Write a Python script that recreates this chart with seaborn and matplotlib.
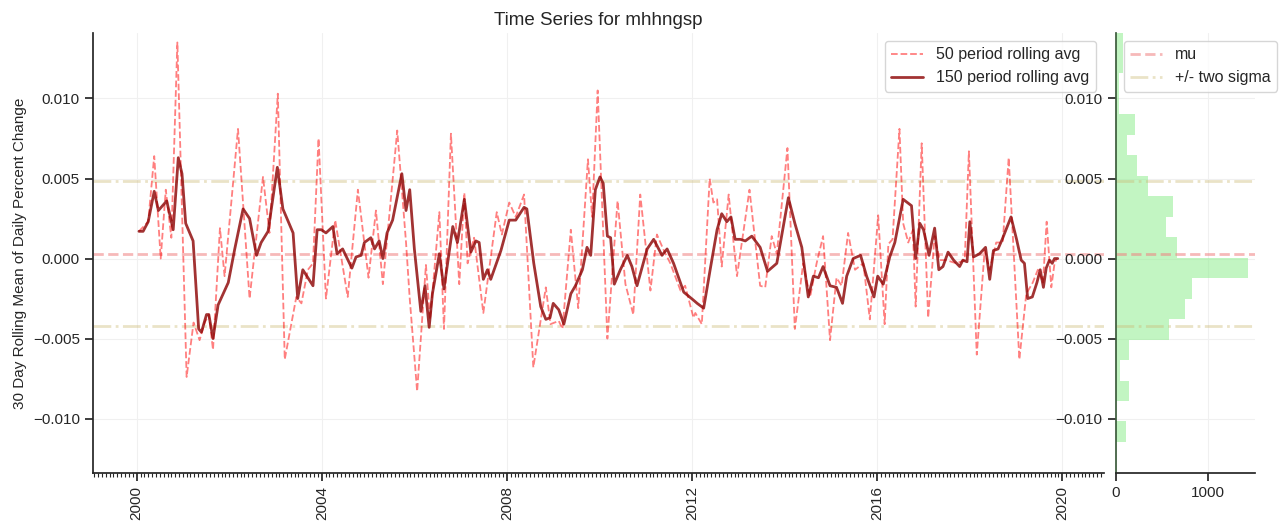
import numpy as np
import pandas as pd
import seaborn as sns
import matplotlib
matplotlib.use('Agg')
import matplotlib.pyplot as plt
import matplotlib.dates as mdates
from matplotlib.lines import Line2D

sns.set_theme(style='ticks')
plt.rcParams['font.family'] = ['Liberation Sans', 'DejaVu Sans']

# %% data (values in units of 1e-3)

slow_years = [2000.05, 2000.14, 2000.25, 2000.38, 2000.47, 2000.65, 2000.79, 2000.90, 2000.98, 2001.06,
              2001.22, 2001.34, 2001.40, 2001.51, 2001.56, 2001.65, 2001.76, 2001.87, 2001.98, 2002.12,
              2002.30, 2002.44, 2002.59, 2002.69, 2002.84, 2003.04, 2003.16, 2003.38, 2003.48, 2003.59,
              2003.81, 2003.90, 2003.99, 2004.09, 2004.24, 2004.33, 2004.45, 2004.65, 2004.74, 2004.85,
              2004.92, 2005.06, 2005.14, 2005.24, 2005.32, 2005.41, 2005.53, 2005.73, 2005.82, 2005.90,
              2006.00, 2006.14, 2006.23, 2006.32, 2006.39, 2006.54, 2006.64, 2006.83, 2006.93, 2007.08,
              2007.22, 2007.33, 2007.40, 2007.49, 2007.58, 2007.65, 2007.87, 2008.05, 2008.19, 2008.37,
              2008.43, 2008.58, 2008.73, 2008.84, 2008.93, 2009.00, 2009.12, 2009.23, 2009.38, 2009.48,
              2009.63, 2009.73, 2009.81, 2009.91, 2010.01, 2010.08, 2010.17, 2010.24, 2010.32, 2010.45,
              2010.60, 2010.70, 2010.81, 2011.03, 2011.17, 2011.35, 2011.46, 2011.60, 2011.82, 2012.03,
              2012.11, 2012.25, 2012.39, 2012.54, 2012.64, 2012.75, 2012.84, 2012.93, 2013.04, 2013.15,
              2013.29, 2013.47, 2013.63, 2013.83, 2014.08, 2014.22, 2014.37, 2014.51, 2014.62, 2014.73,
              2014.83, 2014.98, 2015.12, 2015.25, 2015.34, 2015.48, 2015.64, 2015.77, 2015.93, 2016.01,
              2016.13, 2016.27, 2016.38, 2016.56, 2016.74, 2016.83, 2016.92, 2017.00, 2017.12, 2017.24,
              2017.33, 2017.42, 2017.53, 2017.65, 2017.78, 2017.85, 2017.94, 2018.00, 2018.08, 2018.21,
              2018.34, 2018.43, 2018.51, 2018.61, 2018.70, 2018.89, 2019.01, 2019.11, 2019.18, 2019.25,
              2019.35, 2019.45, 2019.52, 2019.59, 2019.65, 2019.72, 2019.78, 2019.83, 2019.90]
slow_vals = [1.7, 1.7, 2.3, 4.2, 3.0, 3.6, 1.8, 6.3, 5.3, 2.2,
             1.1, -4.4, -4.6, -3.5, -3.5, -5.0, -2.9, -2.2, -1.5, 0.6,
             3.1, 2.5, 0.2, 1.0, 1.7, 5.7, 3.1, 1.6, -2.5, -0.7,
             -1.7, 1.8, 1.8, 1.6, 2.0, 0.3, 0.6, -0.6, 0.1, 0.2,
             1.0, 1.3, 0.6, 1.1, 0.0, 1.6, 2.4, 5.3, 3.0, 4.3,
             0.6, -3.3, -1.7, -4.3, -2.2, 0.3, -1.9, 2.0, 1.0, 3.7,
             0.4, 1.1, 1.0, -1.3, -0.7, -1.3, 0.5, 2.4, 2.4, 3.2,
             3.1, -0.3, -3.0, -3.8, -3.7, -2.8, -3.2, -4.1, -2.2, -1.7,
             -0.7, 0.7, 0.2, 4.3, 5.1, 4.7, 1.4, 1.3, -1.6, -0.7,
             0.2, -0.5, -1.7, 0.6, 1.2, 0.2, 0.6, -0.3, -2.1, -2.6,
             -2.8, -3.1, -0.7, 1.8, 2.8, 2.3, 2.6, 1.2, 1.2, 1.1,
             1.4, 0.7, -0.8, -0.3, 3.8, 2.2, 0.7, -2.4, -1.1, -1.2,
             -0.5, -1.7, -1.8, -2.8, -1.1, 0.0, 0.2, -1.1, -2.4, -1.1,
             -1.6, 0.1, 1.0, 3.7, 3.3, 0.0, 2.2, 1.8, 0.2, 1.9,
             -0.7, -0.5, 0.4, -0.1, -0.5, -0.1, -0.2, 2.3, 0.1, 0.3,
             0.7, -1.3, 0.5, 0.6, 1.2, 2.6, 1.2, -0.1, -0.3, -2.5,
             -2.4, -1.5, -0.7, -1.8, -0.6, -0.1, -0.3, 0.0, 0.0]

fast_years = [2000.05, 2000.25, 2000.38, 2000.52, 2000.63, 2000.75, 2000.88, 2001.08, 2001.23, 2001.36,
              2001.47, 2001.56, 2001.65, 2001.80, 2001.90, 2002.19, 2002.44, 2002.73, 2002.87, 2003.05,
              2003.20, 2003.45, 2003.56, 2003.70, 2003.81, 2003.93, 2004.09, 2004.29, 2004.56, 2004.78,
              2005.01, 2005.17, 2005.32, 2005.63, 2005.82, 2005.90, 2006.06, 2006.25, 2006.34, 2006.54,
              2006.64, 2006.79, 2006.97, 2007.08, 2007.15, 2007.29, 2007.49, 2007.78, 2007.89, 2008.05,
              2008.19, 2008.37, 2008.57, 2008.84, 2008.94, 2009.12, 2009.20, 2009.38, 2009.54, 2009.75,
              2009.84, 2009.96, 2010.17, 2010.39, 2010.56, 2010.73, 2010.88, 2011.10, 2011.24, 2011.39,
              2011.53, 2011.75, 2011.85, 2012.03, 2012.07, 2012.21, 2012.38, 2012.46, 2012.54, 2012.64,
              2012.79, 2012.97, 2013.24, 2013.47, 2013.58, 2013.72, 2013.83, 2014.06, 2014.22, 2014.40,
              2014.55, 2014.69, 2014.83, 2014.98, 2015.12, 2015.23, 2015.37, 2015.52, 2015.70, 2015.84,
              2016.02, 2016.16, 2016.24, 2016.33, 2016.48, 2016.56, 2016.67, 2016.77, 2016.83, 2016.96,
              2017.10, 2017.24, 2017.35, 2017.49, 2017.71, 2017.89, 2017.98, 2018.15, 2018.32, 2018.43,
              2018.57, 2018.71, 2018.84, 2019.07, 2019.22, 2019.36, 2019.47, 2019.58, 2019.66, 2019.76,
              2019.83, 2019.88]
fast_vals = [1.7, 2.3, 6.4, 0.0, 4.3, 1.3, 13.5, -7.4, -4.0, -5.1,
             -4.0, -3.5, -5.7, 1.9, -1.1, 8.1, -2.5, 5.1, 1.6, 10.3,
             -6.3, -2.4, -2.8, -0.7, -0.3, 7.5, -2.5, 2.4, -2.4, 4.3,
             -1.2, 3.0, -1.6, 8.0, 1.0, -2.5, -8.3, -0.4, -3.8, 2.9,
             -4.4, 7.8, -1.6, 4.1, -0.3, 1.3, -3.4, 2.9, 1.5, 3.5,
             2.6, 4.0, -6.8, -1.8, -4.1, -3.9, -4.4, 1.8, -3.1, 6.2,
             2.6, 10.5, -5.0, 3.6, -1.6, -3.5, 4.0, -2.0, 1.5, 0.5,
             -0.3, -2.0, -1.7, -3.7, -3.4, -4.1, 5.0, 3.5, 3.7, -0.5,
             4.0, -1.1, 4.3, -1.7, -1.8, 1.4, 0.3, 6.9, -4.4, -0.3,
             -2.4, -0.3, 1.4, -5.1, -1.2, -1.7, 1.6, -0.7, -0.3, -3.8,
             2.7, -4.1, 0.9, 1.2, 8.1, 2.2, 1.0, 1.8, -3.0, 7.2,
             -3.7, 1.4, -0.1, -0.1, -0.3, -0.1, 6.7, -6.0, 0.5, -0.7,
             1.0, 1.0, 6.3, -6.3, -2.2, -1.5, -0.7, -1.5, 2.3, -1.8,
             -0.3, 0.0]

mu = 0.0003
two_sigma = 0.00454

# histogram of daily percent change, 20 bins bottom -> top
hist_range = (-0.01146, 0.01414)
hist_counts = [110, 8, 146, 44, 146, 584, 756, 828, 1442, 672,
               547, 620, 354, 233, 124, 215, 40, 40, 75, 75]


def to_dates(years):
    years = np.asarray(years, dtype=float)
    return pd.Timestamp('2000-01-01') + pd.to_timedelta((years - 2000) * 365.25, unit='D')


fast = pd.DataFrame({'date': to_dates(fast_years), 'val': np.array(fast_vals) * 1e-3})
slow = pd.DataFrame({'date': to_dates(slow_years), 'val': np.array(slow_vals) * 1e-3})

n_bins = len(hist_counts)
bin_w = (hist_range[1] - hist_range[0]) / n_bins
hist_df = pd.DataFrame({'center': hist_range[0] + bin_w * (np.arange(n_bins) + 0.5),
                        'count': hist_counts})

# %% plot
fig = plt.figure(figsize=(12.81, 5.24), dpi=100)
ax = fig.add_axes([0.0726, 0.0973, 0.789, 0.840])
ax_h = fig.add_axes([0.871, 0.0973, 0.1085, 0.840], sharey=ax)

grid_kw = dict(color='#f0f0f0', linewidth=0.8)
ax.grid(True, **grid_kw)
ax_h.grid(True, **grid_kw)

mu_kw = dict(color='lightcoral', alpha=0.55, linestyle='--', linewidth=2)
sig_kw = dict(color='y', alpha=0.4, linestyle='-.', linewidth=2)
for a in (ax, ax_h):
    a.axhline(mu, **mu_kw)
    a.axhline(mu + two_sigma, **sig_kw)
    a.axhline(mu - two_sigma, **sig_kw)

sns.lineplot(data=fast, x='date', y='val', ax=ax, color='red', alpha=0.5,
             linestyle='--', linewidth=1.3, label='50 period rolling avg')
sns.lineplot(data=slow, x='date', y='val', ax=ax, color='darkred', alpha=0.8,
             linewidth=2, label='150 period rolling avg')

sns.histplot(data=hist_df, y='center', weights='count', bins=n_bins, binrange=hist_range,
             ax=ax_h, color='lightgreen', alpha=0.55, linewidth=0)

ax.set_ylim(-0.0134, 0.0141)
ax.set_title('Time Series for mhhngsp', fontsize=13.5)
ax.set_xlabel('')
ax.set_ylabel('30 Day Rolling Mean of Daily Percent Change', fontsize=11)
ax.xaxis.set_major_locator(mdates.YearLocator(4))
ax.xaxis.set_major_formatter(mdates.DateFormatter('%Y'))
ax.xaxis.set_minor_locator(mdates.MonthLocator())
ax.tick_params(axis='x', which='minor', length=3, width=0.8)
ax.tick_params(labelsize=11)
plt.setp(ax.get_xticklabels(), rotation=90)
ax.legend(loc='upper right', fontsize=11.5)

ax_h.set_xlabel('')
ax_h.set_ylabel('')
ax_h.set_xticks([0, 1000])
ax_h.tick_params(labelsize=11)
ax_h.spines['left'].set_color('#3d5c3d')

# legend for the reference lines lives on the histogram
handles = [Line2D([], [], **mu_kw), Line2D([], [], **sig_kw)]
ax_h.legend(handles, ['mu', '+/- two sigma'], loc='upper left', fontsize=11.5)

sns.despine(ax=ax)
sns.despine(ax=ax_h)

fig.savefig('out.png', dpi=100)
